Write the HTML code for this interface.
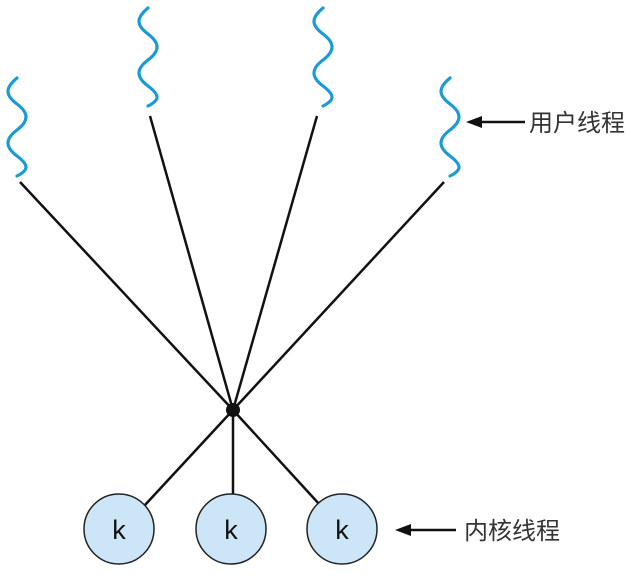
<!DOCTYPE html>
<html><head><meta charset="utf-8"><style>
html,body{margin:0;padding:0;background:#fff;}
</style></head><body>
<svg width="640" height="570" viewBox="0 0 640 570" xmlns="http://www.w3.org/2000/svg">
<defs>
<path id="w" d="M0,0 c-12,10 -12,17 0,26 c12,9 12,17 0,26 c-12,9 -12,17 0,26 c12,9 12,14 0,20" fill="none" stroke="#1a9ad6" stroke-width="3.2" stroke-linecap="round"/>
</defs>
<use href="#w" x="17" y="78"/>
<use href="#w" x="148" y="8"/>
<use href="#w" x="323" y="8"/>
<use href="#w" x="450" y="78"/>
<g stroke="#111" stroke-width="2.5">
<line x1="20" y1="182" x2="233" y2="410"/>
<line x1="150" y1="116" x2="233" y2="410"/>
<line x1="317" y1="116" x2="233" y2="410"/>
<line x1="444" y1="182" x2="233" y2="410"/>
<line x1="233" y1="410" x2="145" y2="505"/>
<line x1="233" y1="410" x2="233" y2="495"/>
<line x1="233" y1="410" x2="320" y2="505"/>
<line x1="478" y1="122" x2="525" y2="122"/>
<line x1="408" y1="530" x2="456" y2="530"/>
</g>
<polygon points="466,122 482,116 482,128" fill="#111"/>
<polygon points="395,530 411,524 411,536" fill="#111"/>
<circle cx="233" cy="410" r="7" fill="#111"/>
<g fill="#cce6f7" stroke="#222" stroke-width="1.5">
<circle cx="119" cy="529" r="35"/>
<circle cx="231" cy="529" r="35"/>
<circle cx="342" cy="529" r="35"/>
</g>
<g font-family="Liberation Sans, sans-serif" font-size="27" fill="#111" text-anchor="middle">
<text x="119" y="539">k</text><text x="231" y="539">k</text><text x="342" y="539">k</text>
</g>
<g font-family="Liberation Sans, 'Noto Sans CJK SC', sans-serif" font-size="24" fill="#333">
<text x="529" y="131">用户线程</text>
<text x="464" y="539">内核线程</text>
</g>
</svg>
</body></html>
